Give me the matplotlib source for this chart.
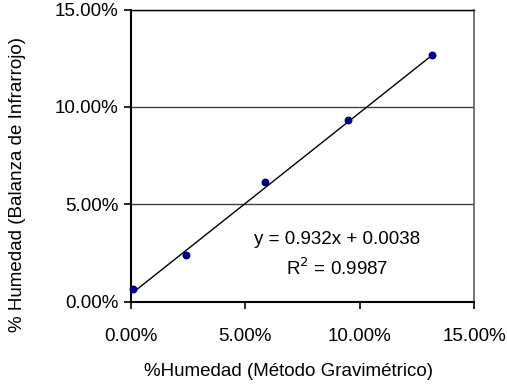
import matplotlib
matplotlib.use("Agg")
import matplotlib.pyplot as plt
import numpy as np
from matplotlib.ticker import FuncFormatter

plt.rcParams['font.family'] = ['Liberation Sans', 'DejaVu Sans']

x_grav = [0.001, 0.024, 0.0586, 0.0947, 0.1315]
y_infra = [0.0065, 0.0241, 0.0613, 0.0933, 0.1267]
slope = 0.932
intercept = 0.0038
eq_text = "y = 0.932x + 0.0038"
r2_text = "R$^2$ = 0.9987"
xticks = [0.0, 0.05, 0.10, 0.15]
yticks = [0.0, 0.05, 0.10, 0.15]

FS = 13.5
fig = plt.figure(figsize=(5.07, 3.87), dpi=100)
ax = fig.add_axes([131/507, 1-301.5/387, (474-131)/507, (301.5-9.5)/387])

ax.set_xlim(0, 0.15)
ax.set_ylim(0, 0.15)
ax.set_xticks(xticks)
ax.set_yticks(yticks)
fmt = FuncFormatter(lambda v, p: f"{v*100:.2f}%")
ax.xaxis.set_major_formatter(fmt)
ax.yaxis.set_major_formatter(fmt)

ax.grid(axis='y', color='#404040', linewidth=1.0)
ax.set_axisbelow(True)

xs = np.array([min(x_grav), max(x_grav)])
ax.plot(xs, slope*xs + intercept, color='black', linewidth=1.0, zorder=2)
ax.scatter(x_grav, y_infra, s=22, color='#000080', zorder=3, clip_on=False)

for s in ['left', 'bottom']:
    ax.spines[s].set_color('black')
    ax.spines[s].set_linewidth(1.5)
ax.spines['top'].set_color('black')
ax.spines['top'].set_linewidth(1.0)
ax.spines['right'].set_color('#606060')
ax.spines['right'].set_linewidth(1.2)

ax.tick_params(axis='both', direction='out', length=5, width=1.2, labelsize=FS, colors='black')
ax.tick_params(axis='x', pad=14)
ax.tick_params(axis='y', pad=4)

ax.text(0.090, 0.0316, eq_text, ha='center', va='center', fontsize=FS)
ax.text(0.090, 0.0172, r2_text, ha='center', va='center', fontsize=FS)

fig.text(289/507, 1-372/387, "%Humedad (Método Gravimétrico)", ha='center', va='center', fontsize=FS)
fig.text(18/507, 1-184/387, "% Humedad (Balanza de Infrarrojo)", ha='center', va='center',
         rotation=90, fontsize=FS)

fig.savefig("out.png", dpi=100)
